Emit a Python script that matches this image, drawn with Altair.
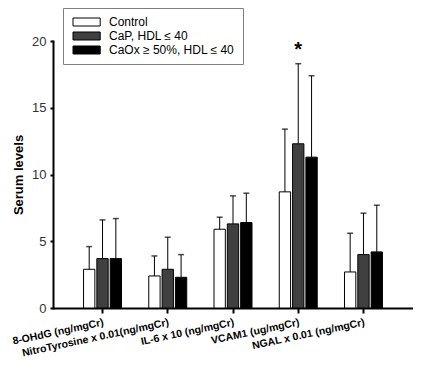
import altair as alt
import pandas as pd

categories = ["8-OHdG (ng/mgCr)", "NitroTyrosine x 0.01(ng/mgCr)", "IL-6 x 10 (ng/mgCr)",
              "VCAM1 (ug/mgCr)", "NGAL x 0.01 (ng/mgCr)"]
groups = ["Control", "CaP, HDL ≤ 40", "CaOx ≥ 50%, HDL ≤ 40"]
control = [2.9, 2.4, 5.9, 8.7, 2.7]
control_sd = [1.7, 1.5, 0.9, 4.7, 2.9]
cap = [3.7, 2.9, 6.3, 12.3, 4.0]
cap_sd = [2.9, 2.4, 2.1, 6.0, 3.1]
caox = [3.7, 2.3, 6.4, 11.3, 4.2]
caox_sd = [3.0, 1.7, 2.2, 6.1, 3.5]
significant = [("VCAM1 (ug/mgCr)", "CaP, HDL ≤ 40")]
colors = ["white", "#404040", "black"]
y_ticks = [0, 5, 10, 15, 20]

rows = []
for vals, sds, g in [(control, control_sd, groups[0]), (cap, cap_sd, groups[1]), (caox, caox_sd, groups[2])]:
    for c, v, s in zip(categories, vals, sds):
        rows.append({"cat": c, "group": g, "value": v, "upper": round(v + s, 2),
                     "star": "*" if (c, g) in significant else ""})
df = pd.DataFrame(rows)

FONT = "Liberation Sans"

x = alt.X("cat:N", sort=categories, title=None,
          scale=alt.Scale(paddingInner=0.418, paddingOuter=0.468),
          axis=alt.Axis(labelAngle=348, labelAlign="right", labelBaseline="top",
                        labelFontWeight="bold", labelFontSize=10.5, labelFont=FONT,
                        labelColor="black", labelPadding=4, tickSize=5, tickWidth=2,
                        tickColor="black", domainColor="black", domainWidth=2,
                        labelLimit=300))
xo = alt.XOffset("group:N", sort=groups, scale=alt.Scale(paddingInner=0.15, paddingOuter=0))
yscale = alt.Scale(domain=[0, 20], nice=False)

bars = alt.Chart(df).mark_bar(stroke="black", strokeWidth=1).encode(
    x=x, xOffset=xo,
    y=alt.Y("value:Q", scale=yscale, title="Serum levels",
            axis=alt.Axis(values=y_ticks, tickSize=3, tickWidth=2, tickColor="black",
                          domainColor="black", domainWidth=2, labelFontSize=13,
                          labelFont=FONT, labelColor="#333", labelPadding=4,
                          titleFont=FONT, titleFontSize=13, titleFontWeight="bold",
                          titleColor="black", titlePadding=6, grid=False)),
    fill=alt.Fill("group:N", sort=groups,
                  scale=alt.Scale(domain=groups, range=colors),
                  legend=alt.Legend(title=None, orient="none", legendX=10, legendY=-33,
                                    symbolType="M-1,-1H5.8V1H-1Z", symbolSize=64,
                                    symbolStrokeColor="black", symbolStrokeWidth=1,
                                    symbolOpacity=1, labelOffset=26, labelFontSize=12,
                                    labelFont=FONT, labelColor="black", rowPadding=2,
                                    fillColor="white", strokeColor="#808080",
                                    padding=8)),
)

err = alt.Chart(df).mark_rule(color="black", strokeWidth=1).encode(
    x=x, xOffset=xo, y=alt.Y("value:Q", scale=yscale), y2="upper:Q")
caps = alt.Chart(df).mark_tick(color="black", thickness=1.5, size=6, orient="horizontal").encode(
    x=x, xOffset=xo, y=alt.Y("upper:Q", scale=yscale))
stars = alt.Chart(df).mark_text(fontSize=20, fontWeight="bold", dy=-4, baseline="bottom",
                                font=FONT).encode(
    x=x, xOffset=xo, y=alt.Y("upper:Q", scale=yscale), text="star:N")

chart = alt.layer(bars, err, caps, stars).properties(
    width=360, height=267,
    autosize=alt.AutoSizeParams(type="none"),
    padding={"left": 45, "top": 33, "right": 0, "bottom": 50},
).configure_view(stroke=None).configure_axisY(domainCap="square")

chart.save("out.html", embed_options={"renderer": "svg", "actions": False})
